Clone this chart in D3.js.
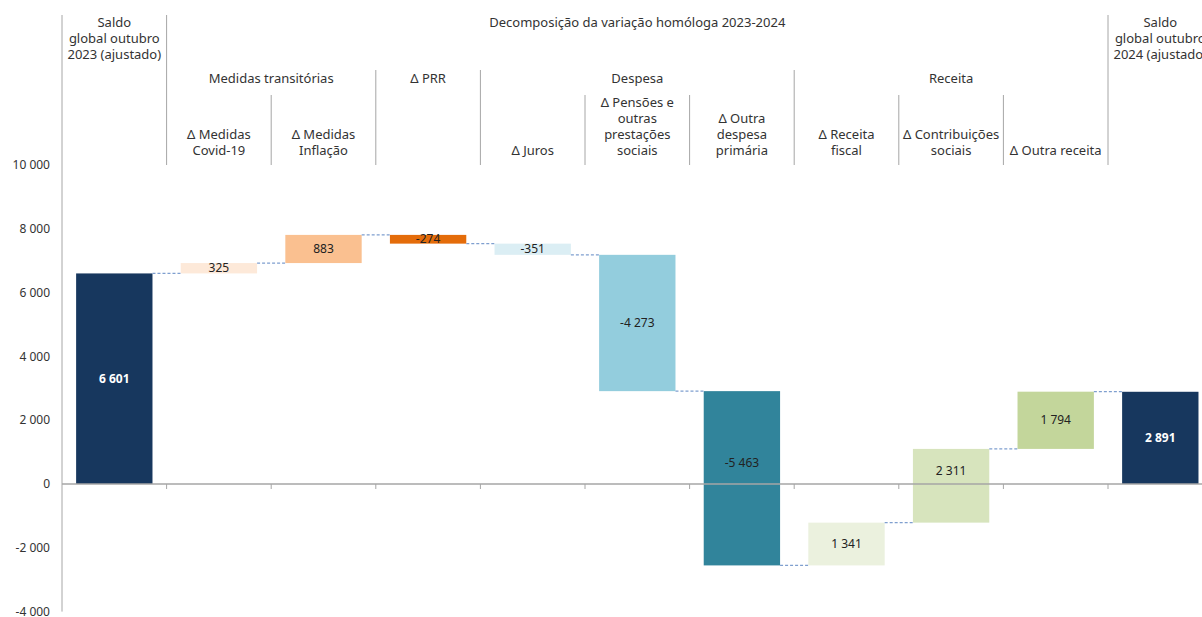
<!DOCTYPE html>
<html>
<head>
<meta charset="utf-8">
<script src="https://cdn.jsdelivr.net/npm/d3@7"></script>
<style>
  body { margin: 0; background: #fff; }
  svg { font-family: "Noto Sans", "DejaVu Sans", sans-serif; }
</style>
</head>
<body>
<div id="chart-container"></div>
<script>
// waterfall: saldo global 2023 -> 2024

const categories = [
  "saldo2023", "covid", "inflacao", "prr", "juros", "pensoes",
  "outraDespesa", "receitaFiscal", "contribuicoes", "outraReceita", "saldo2024"
];
const values = [6601, 325, 883, -274, -351, -4273, -5463, 1341, 2311, 1794, 2891];
const isTotal = [true, false, false, false, false, false, false, false, false, false, true];
const barColors = [
  "#17375e", "#fde9d9", "#fac090", "#e46c0a", "#dbeef4", "#93cddd",
  "#31849b", "#ebf1de", "#d7e4bd", "#c3d69b", "#17375e"
];
const valueLabels = ["6 601", "325", "883", "-274", "-351", "-4 273", "-5 463", "1 341", "2 311", "1 794", "2 891"];
const yTicks = [-4000, -2000, 0, 2000, 4000, 6000, 8000, 10000];

// header texts
const catLabels = [
  [], ["Δ Medidas", "Covid-19"], ["Δ Medidas", "Inflação"], [], ["Δ Juros"],
  ["Δ Pensões e", "outras", "prestações", "sociais"], ["Δ Outra", "despesa", "primária"],
  ["Δ Receita", "fiscal"], ["Δ Contribuições", "sociais"], ["Δ Outra receita"], []
];
const topGroups = [
  { lines: ["Saldo", "global outubro", "2023 (ajustado)"], from: 0, to: 1 },
  { lines: ["Decomposição da variação homóloga 2023-2024"], from: 1, to: 10 },
  { lines: ["Saldo", "global outubro", "2024 (ajustado)"], from: 10, to: 11 }
];
const midGroups = [
  { label: "Medidas transitórias", from: 1, to: 3 },
  { label: "Δ PRR", from: 3, to: 4 },
  { label: "Despesa", from: 4, to: 7 },
  { label: "Receita", from: 7, to: 10 }
];
// separator level per boundary: 1 = top, 2 = middle, 3 = category
const separatorLevel = [1, 1, 3, 2, 2, 3, 3, 2, 3, 3, 1];

const width = 1202;
const height = 617;
const left = 62;
const step = 104.6;

const x = d3.scaleBand()
  .domain(categories)
  .range([left, left + step * categories.length])
  .paddingInner(0.27)
  .paddingOuter(0.135);

const y = d3.scaleLinear().domain([-4000, 10000]).range([611.6, 165]);

// running totals
let running = 0;
const bars = categories.map((c, i) => {
  let start, end;
  if (isTotal[i]) { start = 0; end = values[i]; running = values[i]; }
  else { start = running; end = running + values[i]; running = end; }
  return { c, i, start, end };
});

const svg = d3.select("#chart-container")
  .append("svg")
  .attr("width", width)
  .attr("height", height);

const textColor = "#333";
const lineColor = "#a6a6a6";
const bx = (i) => left + i * x.step();
const levelTop = { 1: 15, 2: 70, 3: 95 };

// header separators
svg.append("g")
  .selectAll("line")
  .data(separatorLevel)
  .join("line")
  .attr("x1", (d, i) => bx(i))
  .attr("x2", (d, i) => bx(i))
  .attr("y1", (d) => levelTop[d])
  .attr("y2", (d, i) => (i === 0 ? y(-4000) : 165))
  .attr("stroke", lineColor)
  .attr("stroke-width", 1);

// header texts
const header = svg.append("g").attr("text-anchor", "middle").attr("fill", textColor).style("font-size", "13px");
topGroups.forEach((g) => {
  g.lines.forEach((l, k) => {
    header.append("text")
      .attr("x", (bx(g.from) + bx(g.to)) / 2)
      .attr("y", 27 + k * 16)
      .text(l);
  });
});
midGroups.forEach((g) => {
  header.append("text")
    .attr("x", (bx(g.from) + bx(g.to)) / 2)
    .attr("y", 83)
    .text(g.label);
});
catLabels.forEach((lines, i) => {
  lines.forEach((l, k) => {
    header.append("text")
      .attr("x", x(categories[i]) + x.bandwidth() / 2)
      .attr("y", 155 - (lines.length - 1 - k) * 16)
      .text(l);
  });
});

// y axis labels
svg.append("g")
  .attr("text-anchor", "end")
  .attr("fill", textColor)
  .style("font-size", "12px")
  .selectAll("text")
  .data(yTicks)
  .join("text")
  .attr("x", 50)
  .attr("y", (d) => y(d))
  .attr("dy", "0.35em")
  .text((d) => d3.format(",")(d).replace(/,/g, " ").replace("−", "-"));

// bars
svg.append("g")
  .selectAll("rect")
  .data(bars)
  .join("rect")
  .attr("x", (d) => x(d.c))
  .attr("width", x.bandwidth())
  .attr("y", (d) => y(Math.max(d.start, d.end)))
  .attr("height", (d) => Math.abs(y(d.start) - y(d.end)))
  .attr("fill", (d) => barColors[d.i]);

// connectors
svg.append("g")
  .selectAll("line")
  .data(bars.slice(0, -1))
  .join("line")
  .attr("x1", (d) => x(d.c) + x.bandwidth())
  .attr("x2", (d) => x(categories[d.i + 1]))
  .attr("y1", (d) => y(d.end))
  .attr("y2", (d) => y(d.end))
  .attr("stroke", "#7f9fcf")
  .attr("stroke-width", 1.2)
  .attr("stroke-dasharray", "3,2");

// x axis at zero
const xAxis = svg.append("g");
xAxis.append("line")
  .attr("x1", left)
  .attr("x2", width)
  .attr("y1", y(0))
  .attr("y2", y(0))
  .attr("stroke", lineColor)
  .attr("stroke-width", 1.5);
xAxis.selectAll(".tick")
  .data(d3.range(1, categories.length))
  .join("line")
  .attr("class", "tick")
  .attr("x1", (i) => bx(i))
  .attr("x2", (i) => bx(i))
  .attr("y1", y(0))
  .attr("y2", y(0) + 5)
  .attr("stroke", lineColor);

// value labels (bars crossing zero get their label nudged up, like the original)
const crossesZero = (d) => d.start * d.end < 0;
svg.append("g")
  .attr("text-anchor", "middle")
  .selectAll("text")
  .data(bars)
  .join("text")
  .attr("x", (d) => x(d.c) + x.bandwidth() / 2)
  .attr("y", (d) => y((d.start + d.end) / 2) - (crossesZero(d) ? 15 : 0))
  .attr("dy", "0.35em")
  .attr("fill", (d) => (isTotal[d.i] ? "#fff" : "#222"))
  .style("font-size", "12px")
  .style("font-weight", (d) => (isTotal[d.i] ? "bold" : "normal"))
  .text((d) => valueLabels[d.i]);
</script>
</body>
</html>
